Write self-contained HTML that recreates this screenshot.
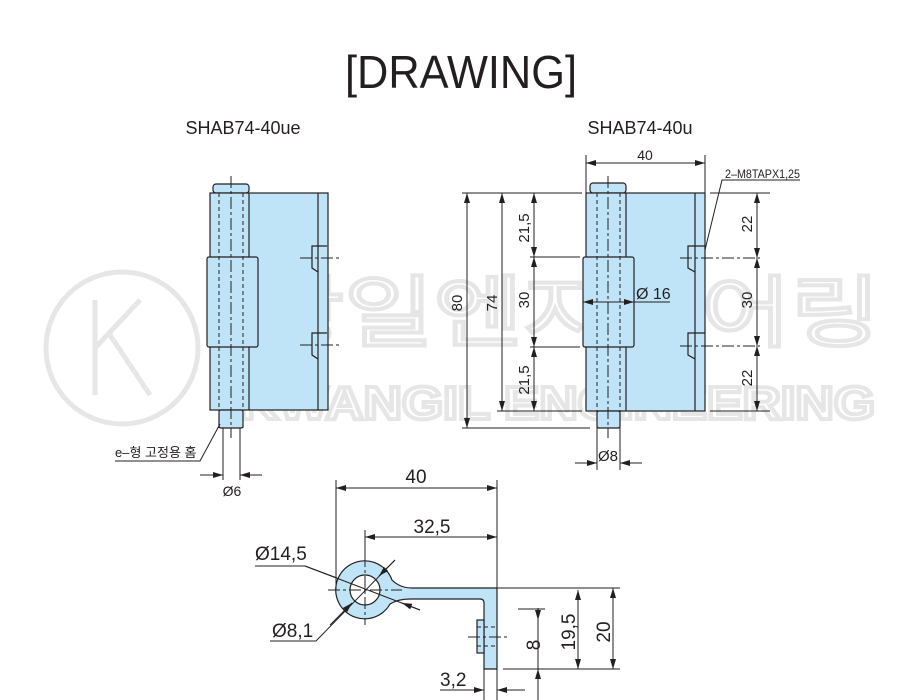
<!DOCTYPE html>
<html><head><meta charset="utf-8"><style>
html,body{margin:0;padding:0;background:#fff;}
svg{display:block;}
text{font-family:"Liberation Sans","Noto Sans CJK KR",sans-serif;fill:#231f20;}
</style></head><body>
<svg width="921" height="700" viewBox="0 0 921 700" xmlns="http://www.w3.org/2000/svg">
<defs>
<marker id="a" viewBox="0 0 10 6" refX="10" refY="3" markerWidth="10" markerHeight="6" orient="auto-start-reverse" markerUnits="userSpaceOnUse"><path d="M0,0 L10,3 L0,6 z" fill="#231f20"/></marker>
</defs>
<!-- watermark -->
<g fill="none" stroke="#e6e6e6" stroke-width="5">
<circle cx="122" cy="348" r="76"/>
<path d="M95,300 V395 M95,348 L140,300 M110,335 L150,395"/>
</g>
<text x="255" y="340" font-size="78" fill="none" stroke="#e6e6e6" stroke-width="4" textLength="625" lengthAdjust="spacingAndGlyphs" style="fill:none">광일엔지니어링</text>
<text x="240" y="419" font-size="46" font-weight="bold" fill="none" stroke="#e6e6e6" stroke-width="4" textLength="635" lengthAdjust="spacingAndGlyphs" style="fill:none">KWANGIL ENGINEERING</text>

<text x="461" y="88" font-size="46" text-anchor="middle" textLength="232" lengthAdjust="spacingAndGlyphs">[DRAWING]</text>
<text x="243" y="134" font-size="18" text-anchor="middle">SHAB74-40ue</text>
<text x="640" y="134" font-size="18" text-anchor="middle">SHAB74-40u</text>

<g stroke="#231f20" stroke-width="1.2" fill="#bfe4f7">
<!-- left hinge -->
<rect x="213" y="184" width="36" height="9" rx="3"/>
<rect x="210" y="193" width="118" height="217"/>
<rect x="219" y="410" width="24" height="18" rx="2"/>
<rect x="207" y="257" width="51" height="90" rx="2"/>
<line x1="318" y1="193" x2="318" y2="410" fill="none"/>
<line x1="249" y1="193" x2="249" y2="257"/><line x1="249" y1="347" x2="249" y2="410"/>
<path d="M327,246 H312 V268 L318,272 M327,333 H312 V355 L318,359" fill="none"/>
<!-- right hinge -->
<rect x="590" y="183" width="36" height="10" rx="3"/>
<rect x="586" y="193" width="119" height="218"/>
<rect x="597" y="411" width="23" height="17" rx="2"/>
<rect x="583" y="257" width="51" height="90" rx="2"/>
<line x1="695" y1="193" x2="695" y2="411"/>
<line x1="626" y1="193" x2="626" y2="257"/><line x1="626" y1="347" x2="626" y2="411"/>
<path d="M705,246 H688 V268 L695,272 M705,333 H688 V355 L695,359" fill="none"/>
<!-- bottom view -->
<path d="M497,588 V669 H484 V603 Q484,599 480,599 H410 Q398,599 390,604 A29,29 0 1 1 392,580 Q400,588 412,588 Z"/>
<circle cx="365" cy="590" r="15" fill="#fff"/>
<rect x="477" y="620" width="7" height="33"/>
</g>
<g stroke="#231f20" stroke-width="1" fill="none" stroke-dasharray="4,3">
<line x1="219" y1="193" x2="219" y2="428"/><line x1="243" y1="193" x2="243" y2="428"/>
<line x1="597" y1="193" x2="597" y2="428"/><line x1="620" y1="193" x2="620" y2="428"/>
<line x1="477" y1="627" x2="497" y2="627"/><line x1="477" y1="646" x2="497" y2="646"/>
</g>
<g stroke="#231f20" stroke-width="1" fill="none" stroke-dasharray="12,3,3,3">
<line x1="231" y1="176" x2="231" y2="438"/>
<line x1="608" y1="176" x2="608" y2="438"/>
<line x1="300" y1="258" x2="340" y2="258"/><line x1="300" y1="345" x2="340" y2="345"/>
<line x1="680" y1="258" x2="760" y2="258"/><line x1="680" y1="346" x2="760" y2="346"/>
<line x1="365" y1="555" x2="365" y2="625"/><line x1="328" y1="590" x2="402" y2="590"/>
<line x1="468" y1="637" x2="510" y2="637"/>
</g>
<!-- dimension lines -->
<g stroke="#231f20" stroke-width="1" fill="none">
<!-- left -->
<line x1="223" y1="428" x2="223" y2="480"/><line x1="240" y1="428" x2="240" y2="480"/>
<line x1="200" y1="475" x2="223" y2="475" marker-end="url(#a)"/><line x1="262" y1="475" x2="240" y2="475" marker-end="url(#a)"/>
<path d="M115,461 H200 L220,424"/>
<!-- right top 40 -->
<line x1="586" y1="155" x2="586" y2="193"/><line x1="705" y1="155" x2="705" y2="193"/>
<line x1="586" y1="163" x2="705" y2="163" marker-start="url(#a)" marker-end="url(#a)"/>
<path d="M800,180 H722 L705,250"/>
<!-- ext lines left -->
<line x1="462" y1="193" x2="582" y2="193"/><line x1="462" y1="428" x2="590" y2="428"/>
<line x1="497" y1="411" x2="582" y2="411"/>
<line x1="530" y1="257" x2="580" y2="257"/><line x1="530" y1="347" x2="580" y2="347"/>
<line x1="467" y1="193" x2="467" y2="428" marker-start="url(#a)" marker-end="url(#a)"/>
<line x1="502" y1="193" x2="502" y2="411" marker-start="url(#a)" marker-end="url(#a)"/>
<line x1="534" y1="193" x2="534" y2="257" marker-start="url(#a)" marker-end="url(#a)"/>
<line x1="534" y1="257" x2="534" y2="347" marker-start="url(#a)" marker-end="url(#a)"/>
<line x1="534" y1="347" x2="534" y2="411" marker-start="url(#a)" marker-end="url(#a)"/>
<!-- right side -->
<line x1="710" y1="193" x2="770" y2="193"/><line x1="710" y1="411" x2="770" y2="411"/>
<line x1="757" y1="193" x2="757" y2="258" marker-start="url(#a)" marker-end="url(#a)"/>
<line x1="757" y1="258" x2="757" y2="346" marker-start="url(#a)" marker-end="url(#a)"/>
<line x1="757" y1="346" x2="757" y2="411" marker-start="url(#a)" marker-end="url(#a)"/>
<!-- Ø16 -->
<line x1="583" y1="302" x2="634" y2="302" marker-start="url(#a)" marker-end="url(#a)"/>
<line x1="634" y1="302" x2="670" y2="302"/>
<!-- Ø8 -->
<line x1="597" y1="428" x2="597" y2="470"/><line x1="620" y1="428" x2="620" y2="470"/>
<line x1="575" y1="463" x2="597" y2="463" marker-end="url(#a)"/><line x1="642" y1="463" x2="620" y2="463" marker-end="url(#a)"/>
<!-- bottom view dims -->
<line x1="336" y1="480" x2="336" y2="590"/><line x1="497" y1="480" x2="497" y2="700"/>
<line x1="336" y1="488" x2="497" y2="488" marker-start="url(#a)" marker-end="url(#a)"/>
<line x1="365" y1="530" x2="365" y2="555"/>
<line x1="365" y1="537" x2="497" y2="537" marker-start="url(#a)" marker-end="url(#a)"/>
<line x1="497" y1="588" x2="620" y2="588"/><line x1="503" y1="669" x2="620" y2="669"/>
<line x1="518" y1="609" x2="545" y2="609"/>
<line x1="613" y1="588" x2="613" y2="669" marker-start="url(#a)" marker-end="url(#a)"/>
<line x1="578" y1="590" x2="578" y2="669" marker-start="url(#a)" marker-end="url(#a)"/>
<line x1="538" y1="608" x2="538" y2="669"/>
<line x1="538" y1="608" x2="538" y2="620" marker-end="url(#a)"/>
<line x1="538" y1="700" x2="538" y2="669" marker-end="url(#a)"/>
<line x1="484" y1="669" x2="484" y2="700"/>
<line x1="440" y1="690" x2="484" y2="690" marker-end="url(#a)"/>
<line x1="525" y1="690" x2="497" y2="690" marker-end="url(#a)"/>
<!-- Ø14.5 leader -->
<path d="M255,566 H305 L337,578"/>
<line x1="305" y1="566" x2="420" y2="610"/>
<line x1="420" y1="610" x2="402" y2="603" marker-end="url(#a)"/>
<!-- Ø8.1 leader -->
<path d="M270,641 H316 L395,560"/>
<line x1="395" y1="560" x2="379" y2="576" marker-end="url(#a)"/>
<line x1="330" y1="625" x2="352" y2="603" marker-end="url(#a)"/>
</g>
<!-- labels -->
<g font-size="13">
<text x="115" y="457">e–형 고정용 홈</text>
<text x="232" y="496" text-anchor="middle" font-size="14">Ø6</text>
<text x="645" y="160" text-anchor="middle" font-size="14">40</text>
<text x="725" y="178" font-size="12" textLength="75" lengthAdjust="spacingAndGlyphs">2–M8TAPX1,25</text>
<text x="636" y="299" font-size="16">Ø 16</text>
<text x="608" y="461" text-anchor="middle" font-size="15">Ø8</text>
</g>
<g font-size="15" text-anchor="middle">
<text transform="translate(462,303) rotate(-90)">80</text>
<text transform="translate(497,303) rotate(-90)">74</text>
<text transform="translate(529,228) rotate(-90)">21,5</text>
<text transform="translate(529,300) rotate(-90)">30</text>
<text transform="translate(529,380) rotate(-90)">21,5</text>
<text transform="translate(752,224) rotate(-90)">22</text>
<text transform="translate(752,300) rotate(-90)">30</text>
<text transform="translate(752,378) rotate(-90)">22</text>
</g>
<g font-size="19">
<text x="416" y="483" text-anchor="middle">40</text>
<text x="432" y="533" text-anchor="middle">32,5</text>
<text x="255" y="560">Ø14,5</text>
<text x="272" y="637">Ø8,1</text>
<text x="440" y="686">3,2</text>
<text transform="translate(540,645) rotate(-90)" text-anchor="middle">8</text>
<text transform="translate(575,632) rotate(-90)" text-anchor="middle">19,5</text>
<text transform="translate(610,632) rotate(-90)" text-anchor="middle">20</text>
</g>
</svg>
</body></html>
